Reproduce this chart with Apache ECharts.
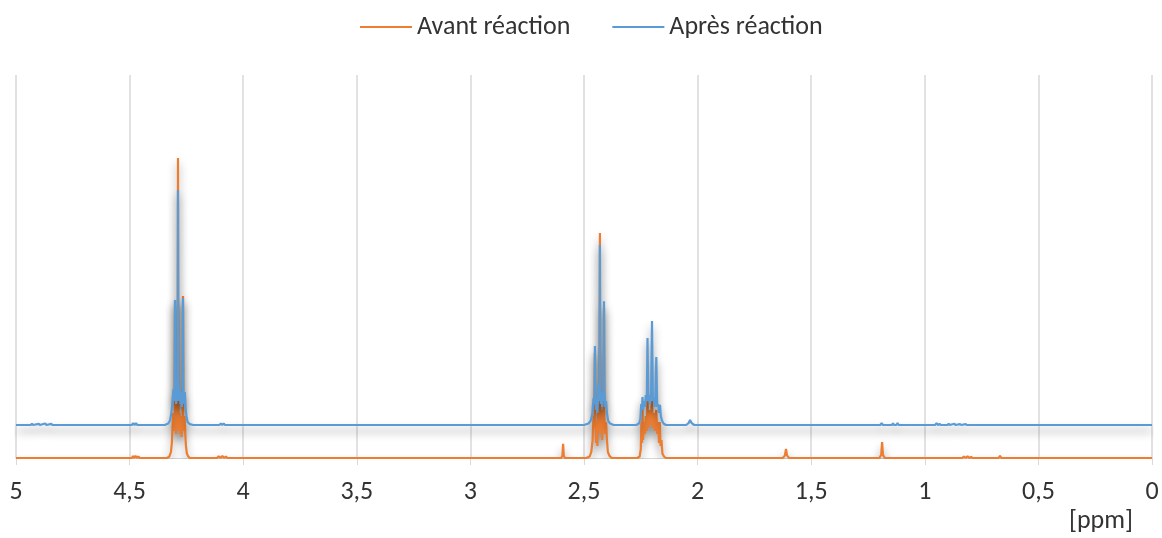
<!DOCTYPE html>
<html>
<head>
<meta charset="utf-8">
<script src="https://cdn.jsdelivr.net/npm/echarts@6/dist/echarts.min.js"></script>
<style>
  html, body { margin: 0; padding: 0; background: #fff; }
  #chart { width: 1162px; height: 538px; }
</style>
</head>
<body>
<div id="chart"></div>
<script>
// 1H NMR spectra, chemical shift in ppm, intensity in arbitrary units
const seriesNames = ['Avant réaction', 'Après réaction'];
const xTicks = [0, 0.5, 1, 1.5, 2, 2.5, 3, 3.5, 4, 4.5, 5];

// spectrum before reaction: [ppm, intensity]
const avantReaction = [
  [5.0, 0], [4.49, 0], [4.485, 0.6], [4.48, 0], [4.474, 0.7], [4.468, 0], [4.462, 0.5], [4.455, 0],
  [4.335, 0], [4.325, 0.5], [4.318, 2], [4.314, 5], [4.311, 10], [4.308, 15], [4.305, 9],
  [4.3015, 14], [4.300, 52.7], [4.2985, 12], [4.296, 8], [4.293, 15], [4.2905, 10],
  [4.2885, 20], [4.287, 100], [4.2855, 20], [4.283, 9], [4.280, 15], [4.277, 8], [4.274, 14],
  [4.271, 7], [4.2665, 13], [4.265, 54], [4.2635, 12], [4.261, 9], [4.258, 14], [4.255, 8],
  [4.252, 4], [4.248, 1.5], [4.242, 0.5], [4.235, 0],
  [4.115, 0], [4.108, 0.6], [4.1, 0], [4.092, 0.7], [4.084, 0], [4.076, 0.5], [4.07, 0],
  [2.60, 0], [2.595, 0.8], [2.592, 4.7], [2.589, 0.8], [2.584, 0],
  [2.49, 0], [2.475, 0.5], [2.468, 2], [2.462, 6], [2.458, 14], [2.455, 10], [2.4535, 15],
  [2.452, 35], [2.4505, 14], [2.447, 5], [2.444, 12], [2.441, 4], [2.4385, 10], [2.437, 18],
  [2.434, 9], [2.4315, 18], [2.430, 75], [2.4285, 18], [2.426, 8], [2.423, 16], [2.420, 6],
  [2.417, 12], [2.4135, 14], [2.412, 50], [2.4105, 14], [2.407, 8], [2.403, 12], [2.399, 6],
  [2.395, 2], [2.388, 0.7], [2.378, 0],
  [2.265, 0], [2.255, 0.5], [2.250, 3], [2.247, 12], [2.2445, 5], [2.2425, 16], [2.240, 6],
  [2.236, 12], [2.232, 8], [2.228, 14], [2.224, 9], [2.2205, 19], [2.217, 10], [2.213, 16],
  [2.209, 11], [2.2045, 15], [2.2007, 19], [2.197, 10], [2.193, 15], [2.189, 9], [2.1855, 14],
  [2.1818, 16], [2.178, 8], [2.174, 12], [2.170, 5], [2.1665, 12], [2.163, 4], [2.159, 6],
  [2.155, 1.5], [2.148, 0.5], [2.140, 0],
  [1.625, 0], [1.616, 0.8], [1.611, 3], [1.606, 0.8], [1.597, 0],
  [1.200, 0], [1.192, 1], [1.188, 5.3], [1.184, 1], [1.176, 0],
  [0.835, 0], [0.828, 0.5], [0.82, 0], [0.812, 0.6], [0.804, 0], [0.796, 0.4], [0.79, 0],
  [0.675, 0], [0.669, 0.7], [0.663, 0],
  [0.0, 0]
];

// spectrum after reaction: [ppm, intensity]
const apresReaction = [
  [5.0, 0], [4.935, 0], [4.93, 0.4], [4.925, 0], [4.9, 0.4], [4.895, 0], [4.872, 0.5], [4.866, 0],
  [4.845, 0.4], [4.84, 0],
  [4.49, 0], [4.484, 0.6], [4.478, 0], [4.472, 0.6], [4.466, 0],
  [4.345, 0], [4.330, 0.5], [4.322, 1.5], [4.316, 4], [4.311, 8], [4.307, 12], [4.304, 8],
  [4.3015, 12], [4.300, 41.7], [4.2985, 10], [4.295, 7], [4.292, 12], [4.2895, 8],
  [4.2885, 16], [4.287, 78.3], [4.2855, 16], [4.282, 8], [4.279, 12], [4.276, 7], [4.273, 11],
  [4.270, 6], [4.2665, 11], [4.265, 42.3], [4.2635, 10], [4.260, 7], [4.257, 11], [4.254, 6],
  [4.250, 3], [4.245, 1], [4.235, 0.3], [4.220, 0],
  [4.105, 0], [4.098, 0.5], [4.092, 0], [4.086, 0.5], [4.08, 0],
  [2.50, 0], [2.480, 0.5], [2.470, 1.5], [2.463, 4], [2.458, 9], [2.455, 7], [2.4535, 10],
  [2.452, 26.3], [2.4505, 10], [2.447, 5], [2.444, 9], [2.441, 4], [2.4385, 8], [2.4365, 14],
  [2.434, 8], [2.4315, 14], [2.430, 60], [2.4285, 14], [2.426, 7], [2.423, 11], [2.420, 6],
  [2.417, 10], [2.4135, 12], [2.412, 41.3], [2.4105, 11], [2.407, 6], [2.403, 8], [2.399, 4],
  [2.394, 1.5], [2.385, 0.5], [2.370, 0],
  [2.270, 0], [2.258, 0.5], [2.252, 2], [2.248, 7], [2.245, 5], [2.2425, 9.3], [2.240, 5],
  [2.236, 8], [2.232, 6], [2.228, 10], [2.2235, 8], [2.2205, 29], [2.217, 8], [2.213, 10],
  [2.209, 7], [2.2045, 11], [2.2007, 34.7], [2.197, 8], [2.193, 9], [2.189, 6], [2.1855, 10],
  [2.1818, 22.7], [2.178, 6], [2.174, 7], [2.170, 4], [2.1655, 6.7], [2.162, 3], [2.157, 1.5],
  [2.150, 0.5], [2.140, 0],
  [2.050, 0], [2.040, 0.6], [2.033, 1.7], [2.026, 0.6], [2.015, 0],
  [1.196, 0], [1.19, 0.6], [1.184, 0], [1.145, 0], [1.14, 0.5], [1.135, 0], [1.125, 0],
  [1.12, 0.6], [1.115, 0],
  [0.955, 0], [0.948, 0.6], [0.942, 0], [0.935, 0.4], [0.93, 0], [0.9, 0], [0.895, 0.4],
  [0.89, 0], [0.87, 0.4], [0.865, 0], [0.845, 0.3], [0.84, 0], [0.82, 0.3], [0.815, 0],
  [0.0, 0]
];

// vertical offset of the second trace in the stacked display
const apresOffset = 11;

const commaLabel = v => String(v).replace('.', ',');
const textColor = '#333333';
const fontFamily = "Carlito, Calibri, 'Open Sans', sans-serif";
const fontSize = 26;

const chart = echarts.init(document.getElementById('chart'), null, { renderer: 'canvas' });

const lineShadow = {
  shadowColor: 'rgba(0,0,0,0.45)',
  shadowBlur: 8,
  shadowOffsetY: 6
};

chart.setOption({
  animation: false,
  backgroundColor: '#ffffff',
  textStyle: { fontFamily: fontFamily },
  legend: {
    top: 9,
    left: 355,
    icon: 'rect',
    itemWidth: 52,
    itemHeight: 2,
    itemGap: 42,
    textStyle: { fontSize: fontSize, color: textColor, fontFamily: fontFamily },
    data: seriesNames
  },
  grid: { left: 16, right: 10, top: 75, bottom: 80, containLabel: false },
  xAxis: {
    type: 'value',
    min: xTicks[0],
    max: xTicks[xTicks.length - 1],
    interval: 0.5,
    inverse: true,
    axisLine: { show: true, lineStyle: { color: '#d9d9d9', width: 1 } },
    axisTick: { show: true, length: 7, lineStyle: { color: '#d9d9d9', width: 1 } },
    splitLine: { show: true, lineStyle: { color: '#d9d9d9', width: 1.5 } },
    axisLabel: {
      formatter: commaLabel,
      fontSize: fontSize,
      color: textColor,
      margin: 21,
      fontFamily: fontFamily
    }
  },
  yAxis: {
    type: 'value',
    min: 0,
    max: 127.7,
    show: false,
    splitLine: { show: false }
  },
  graphic: [{
    type: 'text',
    right: 29,
    top: 508,
    style: { text: '[ppm]', fontSize: fontSize, fill: textColor, fontFamily: fontFamily }
  }],
  series: [
    {
      name: seriesNames[0],
      type: 'line',
      symbol: 'none',
      smooth: false,
      color: '#ed7d31',
      lineStyle: Object.assign({ color: '#ed7d31', width: 2.2 }, lineShadow),
      data: avantReaction
    },
    {
      name: seriesNames[1],
      type: 'line',
      symbol: 'none',
      smooth: false,
      color: '#5b9bd5',
      lineStyle: Object.assign({ color: '#5b9bd5', width: 2.2 }, lineShadow),
      data: apresReaction.map(p => [p[0], p[1] + apresOffset])
    }
  ]
});

// keep every short segment of the spectra: the polylines merge sub-2px segments by default
const zr = chart.getZr();
zr.storage.getDisplayList(true).forEach(el => {
  if (el.type === 'ec-polyline') {
    el.segmentIgnoreThreshold = 1e-6;
    if (el.path) { el.path._ux = 0; el.path._uy = 0; }
    el.dirtyShape();
  }
});
zr.refreshImmediately();
</script>
</body>
</html>
